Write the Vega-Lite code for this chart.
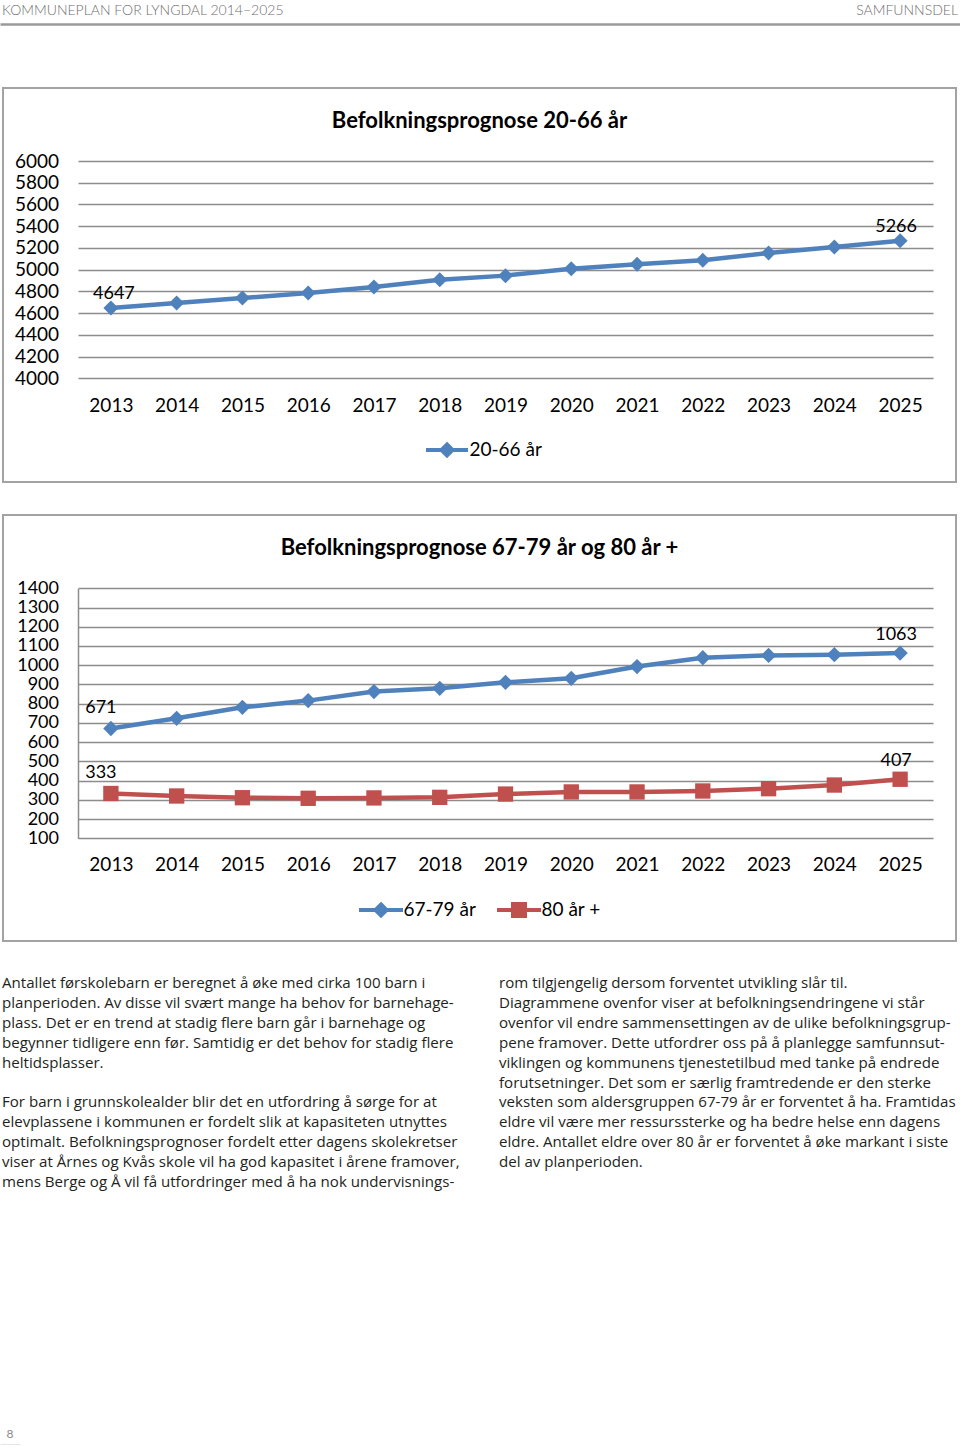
{
  "$schema": "https://vega.github.io/schema/vega-lite/v6.json",
  "padding": 0,
  "background": "white",
  "config": {"font": "Lato"},
  "spacing": 31,
  "resolve": {"scale": {"color": "independent", "shape": "independent", "fill": "independent", "stroke": "independent"}, "legend": {"color": "independent", "shape": "independent", "fill": "independent", "stroke": "independent"}},
  "vconcat": [
    {
      "spacing": 62,
      "center": true,
      "resolve": {"scale": {"color": "independent", "shape": "independent", "fill": "independent", "stroke": "independent"}, "legend": {"color": "independent", "shape": "independent", "fill": "independent", "stroke": "independent"}},
      "vconcat": [
        {
          "width": 960,
          "height": 25,
          "view": {"stroke": null},
          "data": {"values": [
            {"side": "venstre", "tekst": "KOMMUNEPLAN FOR LYNGDAL 2014–2025"},
            {"side": "høyre", "tekst": "SAMFUNNSDEL"}
          ]},
          "encoding": {
            "x": {"field": "side", "type": "nominal", "scale": {"type": "point", "domain": ["venstre", "høyre"], "padding": 0},
                  "axis": {"orient": "bottom", "title": null, "labels": false, "ticks": false, "grid": false, "domain": true, "domainColor": "#9a9a9a", "domainWidth": 2.5, "offset": -1}},
            "text": {"field": "tekst", "type": "nominal"}
          },
          "layer": [
            {"transform": [{"filter": "datum.side === 'venstre'"}],
             "mark": {"type": "text", "align": "left", "baseline": "middle", "dx": 2, "dy": -2, "fontSize": 14, "font": "Lato", "fontWeight": 300, "color": "#6e6e6e"}},
            {"transform": [{"filter": "datum.side === 'høyre'"}],
             "mark": {"type": "text", "align": "right", "baseline": "middle", "dx": -2, "dy": -2, "fontSize": 14, "font": "Lato", "fontWeight": 300, "color": "#6e6e6e"}}
          ]
        },
        {
          "width": 953,
          "height": 394,
          "view": {"stroke": "#a3a3a3", "strokeWidth": 2},
          "title": {"text": "Befolkningsprognose 20-66 år", "anchor": "middle", "frame": "group", "orient": "top", "offset": -55, "baseline": "middle", "fontSize": 22, "font": "Lato", "fontWeight": "bold", "color": "#000000"},
          "data": {"values": [
            {"aar": 2013, "verdi": 4647, "serie": "20-66 år"},
            {"aar": 2014, "verdi": 4692, "serie": "20-66 år"},
            {"aar": 2015, "verdi": 4738, "serie": "20-66 år"},
            {"aar": 2016, "verdi": 4784, "serie": "20-66 år"},
            {"aar": 2017, "verdi": 4840, "serie": "20-66 år"},
            {"aar": 2018, "verdi": 4908, "serie": "20-66 år"},
            {"aar": 2019, "verdi": 4945, "serie": "20-66 år"},
            {"aar": 2020, "verdi": 5009, "serie": "20-66 år"},
            {"aar": 2021, "verdi": 5049, "serie": "20-66 år"},
            {"aar": 2022, "verdi": 5086, "serie": "20-66 år"},
            {"aar": 2023, "verdi": 5154, "serie": "20-66 år"},
            {"aar": 2024, "verdi": 5209, "serie": "20-66 år"},
            {"aar": 2025, "verdi": 5266, "serie": "20-66 år"}
          ]},
          "encoding": {
            "x": {"field": "aar", "type": "quantitative", "scale": {"domain": [2012.5, 2025.5], "range": [75, 930], "nice": false, "zero": false},
                  "axis": {"values": [2013, 2014, 2015, 2016, 2017, 2018, 2019, 2020, 2021, 2022, 2023, 2024, 2025], "format": "d", "title": null, "grid": false, "domain": false, "ticks": false, "tickSize": 0, "labelPadding": 0, "offset": -77, "labelBaseline": "middle", "labelFontSize": 19, "labelFont": "Lato", "labelColor": "#000000", "labelFlush": false, "labelOverlap": false}},
            "y": {"field": "verdi", "type": "quantitative", "scale": {"domain": [4000, 6000], "range": [290.3, 73], "nice": false, "zero": false},
                  "axis": {"values": [4000, 4200, 4400, 4600, 4800, 5000, 5200, 5400, 5600, 5800, 6000], "format": "d", "title": null, "grid": true, "gridColor": "#8c8c8c", "gridWidth": 1.5, "gridOpacity": 1, "domain": false, "ticks": false, "tickSize": 0, "labelPadding": 19.5, "offset": -75, "labelFontSize": 19, "labelFont": "Lato", "labelColor": "#000000", "labelFlush": false, "labelOverlap": false}}
          },
          "layer": [
            {"mark": {"type": "line", "strokeWidth": 4.5, "strokeJoin": "round", "strokeCap": "round"},
             "encoding": {"color": {"field": "serie", "type": "nominal", "scale": {"domain": ["20-66 år"], "range": ["#4f81bd"]},
               "legend": {"orient": "none", "legendX": 434.5, "legendY": 352.5, "direction": "horizontal", "title": null, "symbolSize": 100, "symbolType": "M-4.2,0H4.2M0,-1.1L1.1,0L0,1.1L-1.1,0Z", "symbolFillColor": "#4f81bd", "symbolStrokeColor": "#4f81bd", "symbolStrokeWidth": 4, "symbolOpacity": 1, "labelOffset": 13, "labelFontSize": 19, "labelFont": "Lato", "labelColor": "#000000", "labelBaseline": "middle", "padding": 0}}}},
            {"mark": {"type": "point", "filled": true, "opacity": 1, "size": 225, "shape": "diamond", "color": "#4f81bd"}},
            {"transform": [{"filter": "datum.aar === 2013"}],
             "mark": {"type": "text", "dx": 3, "dy": -14, "baseline": "middle", "fontSize": 18, "font": "Lato", "color": "#000000"},
             "encoding": {"text": {"field": "verdi", "type": "quantitative", "format": "d"}}},
            {"transform": [{"filter": "datum.aar === 2025"}],
             "mark": {"type": "text", "dx": -4, "dy": -14, "baseline": "middle", "fontSize": 18, "font": "Lato", "color": "#000000"},
             "encoding": {"text": {"field": "verdi", "type": "quantitative", "format": "d"}}}
          ]
        }
      ]
    },
    {
      "spacing": 31,
      "center": true,
      "resolve": {"scale": {"color": "independent", "shape": "independent", "fill": "independent", "stroke": "independent"}, "legend": {"color": "independent", "shape": "independent", "fill": "independent", "stroke": "independent"}},
      "vconcat": [
        {
          "width": 953,
          "height": 426,
          "view": {"stroke": "#a3a3a3", "strokeWidth": 2},
          "title": {"text": "Befolkningsprognose  67-79 år og 80 år +", "anchor": "middle", "frame": "group", "orient": "top", "offset": -55, "baseline": "middle", "fontSize": 22, "font": "Lato", "fontWeight": "bold", "color": "#000000"},
          "data": {"values": [
            {"aar": 2013, "verdi": 671, "serie": "67-79 år"},
            {"aar": 2014, "verdi": 724, "serie": "67-79 år"},
            {"aar": 2015, "verdi": 781, "serie": "67-79 år"},
            {"aar": 2016, "verdi": 816, "serie": "67-79 år"},
            {"aar": 2017, "verdi": 863, "serie": "67-79 år"},
            {"aar": 2018, "verdi": 880, "serie": "67-79 år"},
            {"aar": 2019, "verdi": 911, "serie": "67-79 år"},
            {"aar": 2020, "verdi": 932, "serie": "67-79 år"},
            {"aar": 2021, "verdi": 993, "serie": "67-79 år"},
            {"aar": 2022, "verdi": 1039, "serie": "67-79 år"},
            {"aar": 2023, "verdi": 1051, "serie": "67-79 år"},
            {"aar": 2024, "verdi": 1055, "serie": "67-79 år"},
            {"aar": 2025, "verdi": 1063, "serie": "67-79 år"},
            {"aar": 2013, "verdi": 333, "serie": "80 år +"},
            {"aar": 2014, "verdi": 320, "serie": "80 år +"},
            {"aar": 2015, "verdi": 311, "serie": "80 år +"},
            {"aar": 2016, "verdi": 308, "serie": "80 år +"},
            {"aar": 2017, "verdi": 310, "serie": "80 år +"},
            {"aar": 2018, "verdi": 313, "serie": "80 år +"},
            {"aar": 2019, "verdi": 330, "serie": "80 år +"},
            {"aar": 2020, "verdi": 341, "serie": "80 år +"},
            {"aar": 2021, "verdi": 341, "serie": "80 år +"},
            {"aar": 2022, "verdi": 346, "serie": "80 år +"},
            {"aar": 2023, "verdi": 358, "serie": "80 år +"},
            {"aar": 2024, "verdi": 377, "serie": "80 år +"},
            {"aar": 2025, "verdi": 407, "serie": "80 år +"}
          ]},
          "encoding": {
            "x": {"field": "aar", "type": "quantitative", "scale": {"domain": [2012.5, 2025.5], "range": [75, 930], "nice": false, "zero": false},
                  "axis": {"values": [2013, 2014, 2015, 2016, 2017, 2018, 2019, 2020, 2021, 2022, 2023, 2024, 2025], "format": "d", "title": null, "grid": false, "domain": false, "ticks": false, "tickSize": 0, "labelPadding": 0, "offset": -77, "labelBaseline": "middle", "labelFontSize": 19, "labelFont": "Lato", "labelColor": "#000000", "labelFlush": false, "labelOverlap": false}},
            "y": {"field": "verdi", "type": "quantitative", "scale": {"domain": [100, 1400], "range": [323.3, 73.3], "nice": false, "zero": false},
                  "axis": {"values": [100, 200, 300, 400, 500, 600, 700, 800, 900, 1000, 1100, 1200, 1300, 1400], "format": "d", "title": null, "grid": true, "gridColor": "#8c8c8c", "gridWidth": 1.5, "gridOpacity": 1, "domain": true, "domainColor": "#8c8c8c", "domainWidth": 1.5, "ticks": false, "tickSize": 0, "labelPadding": 19.5, "offset": -75, "labelFontSize": 18, "labelFont": "Lato", "labelColor": "#000000", "labelFlush": false, "labelOverlap": false}}
          },
          "layer": [
            {"transform": [{"filter": "datum.serie === '67-79 år'"}],
             "mark": {"type": "line", "strokeWidth": 4.5, "strokeJoin": "round", "strokeCap": "round"},
             "encoding": {"color": {"field": "serie", "type": "nominal", "scale": {"domain": ["67-79 år"], "range": ["#4f81bd"]},
               "legend": {"orient": "none", "legendX": 368.5, "legendY": 385.5, "direction": "horizontal", "title": null, "symbolSize": 100, "symbolType": "M-4.4,0H4.4M0,-1.1L1.1,0L0,1.1L-1.1,0Z", "symbolFillColor": "#4f81bd", "symbolStrokeColor": "#4f81bd", "symbolStrokeWidth": 4, "symbolOpacity": 1, "labelOffset": 13, "labelFontSize": 19, "labelFont": "Lato", "labelColor": "#000000", "labelBaseline": "middle", "padding": 0}}}},
            {"transform": [{"filter": "datum.serie === '80 år +'"}],
             "mark": {"type": "line", "strokeWidth": 4.5, "strokeJoin": "round", "strokeCap": "round"},
             "encoding": {"stroke": {"field": "serie", "type": "nominal", "scale": {"domain": ["80 år +"], "range": ["#c0504d"]},
               "legend": {"orient": "none", "legendX": 506.5, "legendY": 385.5, "direction": "horizontal", "title": null, "symbolSize": 100, "symbolType": "M-4.4,0H4.4M-1.2,-1.2H1.2V1.2H-1.2Z", "symbolFillColor": "#c0504d", "symbolStrokeColor": "#c0504d", "symbolStrokeWidth": 4, "symbolOpacity": 1, "labelOffset": 13, "labelFontSize": 19, "labelFont": "Lato", "labelColor": "#000000", "labelBaseline": "middle", "padding": 0}}}},
            {"mark": {"type": "point", "filled": true, "opacity": 1, "size": 235},
             "encoding": {"fill": {"field": "serie", "type": "nominal", "scale": {"domain": ["67-79 år", "80 år +"], "range": ["#4f81bd", "#c0504d"]}, "legend": null},
               "shape": {"field": "serie", "type": "nominal", "scale": {"domain": ["67-79 år", "80 år +"], "range": ["diamond", "square"]}, "legend": null}}},
            {"transform": [{"filter": "datum.aar === 2013"}],
             "mark": {"type": "text", "dx": -10, "dy": -20, "baseline": "middle", "fontSize": 18, "font": "Lato", "color": "#000000"},
             "encoding": {"text": {"field": "verdi", "type": "quantitative", "format": "d"}}},
            {"transform": [{"filter": "datum.aar === 2025"}],
             "mark": {"type": "text", "dx": -4, "dy": -18, "baseline": "middle", "fontSize": 18, "font": "Lato", "color": "#000000"},
             "encoding": {"text": {"field": "verdi", "type": "quantitative", "format": "d"}}}
          ]
        },
        {
          "spacing": 231,
          "vconcat": [
            {
              "width": 960,
              "height": 219,
              "view": {"stroke": null},
              "data": {"values": [
                {"kol": "venstre", "linje": 1, "tekst": "Antallet førskolebarn er beregnet å øke med cirka 100 barn i"},
                {"kol": "venstre", "linje": 2, "tekst": "planperioden. Av disse vil svært mange ha behov for barnehage-"},
                {"kol": "venstre", "linje": 3, "tekst": "plass. Det er en trend at stadig flere barn går i barnehage og"},
                {"kol": "venstre", "linje": 4, "tekst": "begynner tidligere enn før. Samtidig er det behov for stadig flere"},
                {"kol": "venstre", "linje": 5, "tekst": "heltidsplasser."},
                {"kol": "venstre", "linje": 7, "tekst": "For barn i grunnskolealder blir det en utfordring å sørge for at"},
                {"kol": "venstre", "linje": 8, "tekst": "elevplassene i kommunen er fordelt slik at kapasiteten utnyttes"},
                {"kol": "venstre", "linje": 9, "tekst": "optimalt. Befolkningsprognoser fordelt etter dagens skolekretser"},
                {"kol": "venstre", "linje": 10, "tekst": "viser at Årnes og Kvås skole vil ha god kapasitet i årene framover,"},
                {"kol": "venstre", "linje": 11, "tekst": "mens Berge og Å vil få utfordringer med å ha nok undervisnings-"},
                {"kol": "høyre", "linje": 1, "tekst": "rom tilgjengelig dersom forventet utvikling slår til."},
                {"kol": "høyre", "linje": 2, "tekst": "Diagrammene ovenfor viser at befolkningsendringene vi står"},
                {"kol": "høyre", "linje": 3, "tekst": "ovenfor vil endre sammensettingen av de ulike befolkningsgrup-"},
                {"kol": "høyre", "linje": 4, "tekst": "pene framover. Dette utfordrer oss på å planlegge samfunnsut-"},
                {"kol": "høyre", "linje": 5, "tekst": "viklingen og kommunens tjenestetilbud med tanke på endrede"},
                {"kol": "høyre", "linje": 6, "tekst": "forutsetninger. Det som er særlig framtredende er den sterke"},
                {"kol": "høyre", "linje": 7, "tekst": "veksten som aldersgruppen 67-79 år er forventet å ha. Framtidas"},
                {"kol": "høyre", "linje": 8, "tekst": "eldre vil være mer ressurssterke og ha bedre helse enn dagens"},
                {"kol": "høyre", "linje": 9, "tekst": "eldre.  Antallet eldre over 80 år er forventet å øke markant i siste"},
                {"kol": "høyre", "linje": 10, "tekst": "del av planperioden."}
              ]},
              "mark": {"type": "text", "align": "left", "baseline": "middle", "fontSize": 15.1, "font": "Open Sans", "color": "#231f20"},
              "encoding": {
                "x": {"field": "kol", "type": "nominal", "scale": {"type": "point", "domain": ["venstre", "høyre"], "range": [2, 499], "padding": 0}, "axis": null},
                "y": {"field": "linje", "type": "ordinal", "scale": {"type": "band", "domain": [1, 2, 3, 4, 5, 6, 7, 8, 9, 10, 11], "paddingInner": 0, "paddingOuter": 0}, "axis": null},
                "text": {"field": "tekst", "type": "nominal"}
              }
            },
            {
              "width": 20,
              "height": 22,
              "view": {"stroke": null},
              "data": {"values": [{"side": "sidetall", "tekst": "8"}]},
              "mark": {"type": "text", "align": "center", "baseline": "middle", "fontSize": 12, "font": "Lato", "color": "#8a8a8a"},
              "encoding": {
                "x": {"field": "side", "type": "nominal", "scale": {"type": "point", "padding": 0},
                      "axis": {"orient": "bottom", "title": null, "labels": false, "ticks": false, "grid": false, "domain": true, "domainColor": "#9a9a9a", "domainWidth": 1.5}},
                "text": {"field": "tekst", "type": "nominal"}
              }
            }
          ]
        }
      ]
    }
  ]
}
